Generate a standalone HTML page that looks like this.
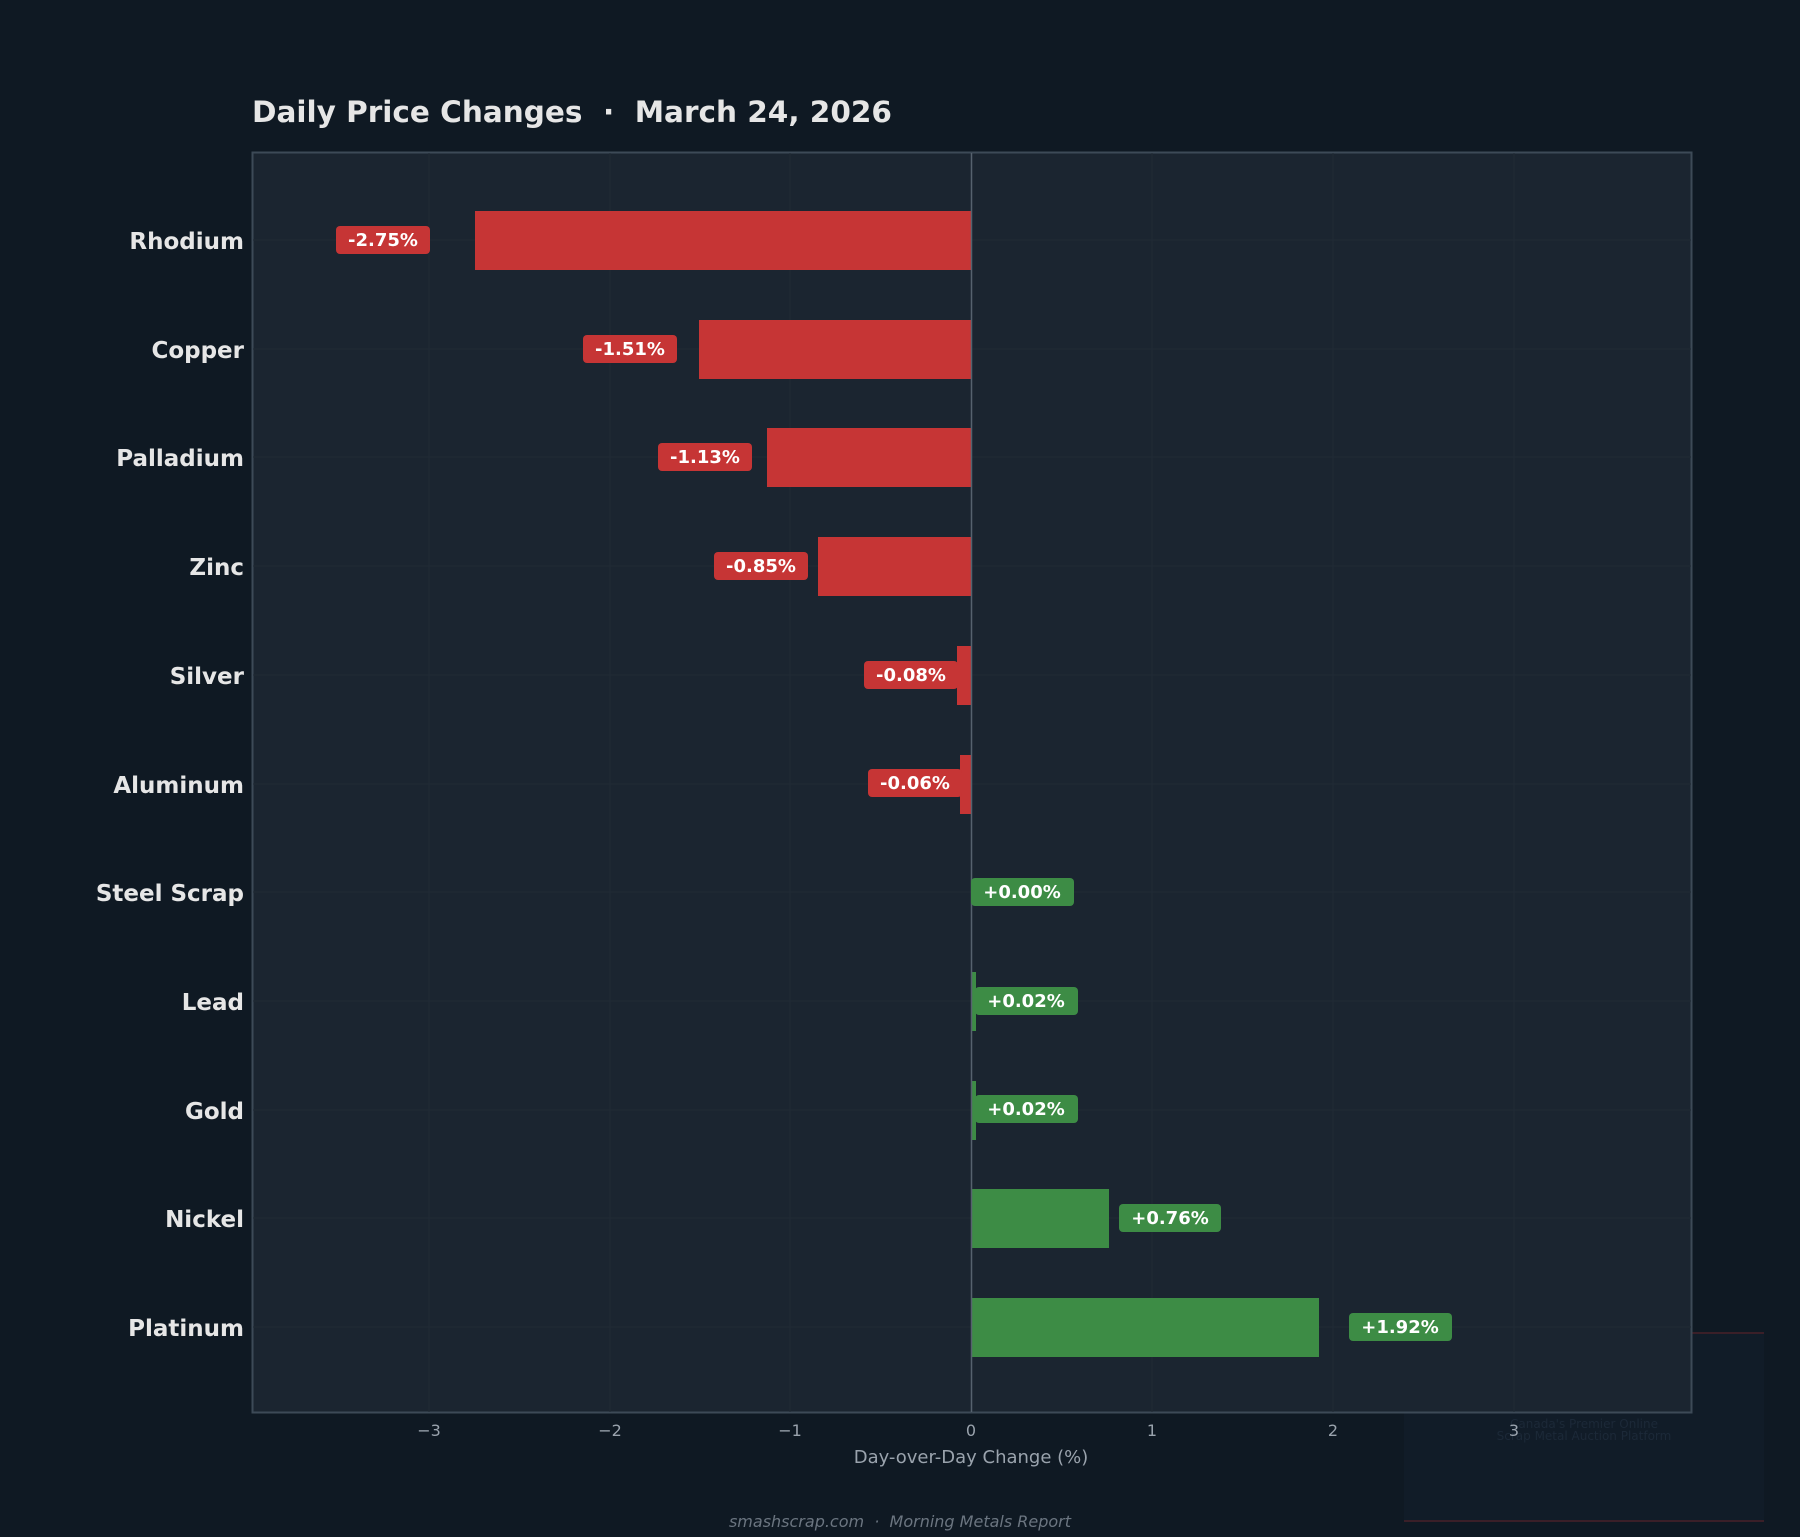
<!DOCTYPE html>
<html><head><meta charset="utf-8"><style>
html,body{margin:0;padding:0;background:#0f1923;}
svg{display:block;font-family:"DejaVu Sans","Liberation Sans",sans-serif;}
text{white-space:pre;}
</style></head><body>
<svg width="1800" height="1537" viewBox="0 0 1800 1537" xmlns="http://www.w3.org/2000/svg" xml:space="preserve">
<rect width="1800" height="1537" fill="#0f1923"/>
<!-- watermark -->
<rect x="1404" y="1333" width="360" height="188" fill="#111c28"/>
<line x1="1404" y1="1333" x2="1764" y2="1333" stroke="#3a1f28" stroke-width="2"/>
<line x1="1404" y1="1521" x2="1764" y2="1521" stroke="#3a1f28" stroke-width="2"/>
<text x="1584" y="1428" fill="#1c2938" font-size="12" text-anchor="middle">Canada's Premier Online</text>
<text x="1584" y="1440" fill="#1c2938" font-size="12" text-anchor="middle">Scrap Metal Auction Platform</text>
<!-- title -->
<text x="252" y="122" fill="#e6e6e6" font-size="29.5" font-weight="bold">Daily Price Changes  ·  March 24, 2026</text>
<!-- axes -->
<rect x="252.5" y="152.5" width="1439" height="1260" fill="#1b2530" stroke="#3d4a57" stroke-width="2"/>
<g stroke="#202a35" stroke-width="1">
<line x1="429" y1="153" x2="429" y2="1412"/><line x1="610" y1="153" x2="610" y2="1412"/><line x1="790" y1="153" x2="790" y2="1412"/>
<line x1="1152" y1="153" x2="1152" y2="1412"/><line x1="1333" y1="153" x2="1333" y2="1412"/><line x1="1514" y1="153" x2="1514" y2="1412"/>
<line x1="253" y1="240" x2="1691" y2="240"/><line x1="253" y1="349" x2="1691" y2="349"/><line x1="253" y1="457" x2="1691" y2="457"/>
<line x1="253" y1="566" x2="1691" y2="566"/><line x1="253" y1="675" x2="1691" y2="675"/><line x1="253" y1="784" x2="1691" y2="784"/>
<line x1="253" y1="892" x2="1691" y2="892"/><line x1="253" y1="1001" x2="1691" y2="1001"/><line x1="253" y1="1110" x2="1691" y2="1110"/>
<line x1="253" y1="1218" x2="1691" y2="1218"/><line x1="253" y1="1327" x2="1691" y2="1327"/>
</g>
<!-- bars -->
<g fill="#c63535">
<rect x="475" y="211" width="496" height="59"/>
<rect x="699" y="320" width="272" height="59"/>
<rect x="767" y="428" width="204" height="59"/>
<rect x="818" y="537" width="153" height="59"/>
<rect x="957" y="646" width="14" height="59"/>
<rect x="960" y="755" width="11" height="59"/>
</g>
<g fill="#3d8c45">
<rect x="971" y="972" width="5" height="59"/>
<rect x="971" y="1081" width="5" height="59"/>
<rect x="971" y="1189" width="138" height="59"/>
<rect x="971" y="1298" width="348" height="59"/>
</g>
<line x1="971.5" y1="153" x2="971.5" y2="1412" stroke="#56626e" stroke-width="1.5"/>
<!-- badges -->
<g font-size="18" font-weight="bold" fill="#ffffff" text-anchor="middle">
<rect x="336" y="226" width="94" height="28" rx="4" fill="#c63535"/><text x="383" y="246">-2.75%</text>
<rect x="583" y="335" width="94" height="28" rx="4" fill="#c63535"/><text x="630" y="355">-1.51%</text>
<rect x="658" y="443" width="94" height="28" rx="4" fill="#c63535"/><text x="705" y="463">-1.13%</text>
<rect x="714" y="552" width="94" height="28" rx="4" fill="#c63535"/><text x="761" y="572">-0.85%</text>
<rect x="864" y="661" width="94" height="28" rx="4" fill="#c63535"/><text x="911" y="681">-0.08%</text>
<rect x="868" y="769" width="94" height="28" rx="4" fill="#c63535"/><text x="915" y="789">-0.06%</text>
<rect x="971" y="878" width="103" height="28" rx="4" fill="#3d8c45"/><text x="1022" y="898">+0.00%</text>
<rect x="975" y="987" width="103" height="28" rx="4" fill="#3d8c45"/><text x="1026" y="1007">+0.02%</text>
<rect x="975" y="1095" width="103" height="28" rx="4" fill="#3d8c45"/><text x="1026" y="1115">+0.02%</text>
<rect x="1119" y="1204" width="102" height="28" rx="4" fill="#3d8c45"/><text x="1170" y="1224">+0.76%</text>
<rect x="1349" y="1313" width="103" height="28" rx="4" fill="#3d8c45"/><text x="1400" y="1333">+1.92%</text>
</g>
<!-- y labels -->
<g font-size="23" font-weight="bold" fill="#e6e6e6" text-anchor="end">
<text x="244" y="249">Rhodium</text><text x="244" y="358">Copper</text><text x="244" y="466">Palladium</text>
<text x="244" y="575">Zinc</text><text x="244" y="684">Silver</text><text x="244" y="793">Aluminum</text>
<text x="244" y="901">Steel Scrap</text><text x="244" y="1010">Lead</text><text x="244" y="1119">Gold</text>
<text x="244" y="1227">Nickel</text><text x="244" y="1336">Platinum</text>
</g>
<!-- x ticks -->
<g font-size="16" fill="#9aa3ad" text-anchor="middle">
<text x="429" y="1436">−3</text><text x="610" y="1436">−2</text><text x="790" y="1436">−1</text>
<text x="971" y="1436">0</text><text x="1152" y="1436">1</text><text x="1333" y="1436">2</text><text x="1514" y="1436">3</text>
</g>
<text x="971" y="1463" font-size="18" fill="#9aa3ad" text-anchor="middle">Day-over-Day Change (%)</text>
<text x="900" y="1527" font-size="16" font-style="italic" fill="#6b7580" text-anchor="middle">smashscrap.com  ·  Morning Metals Report</text>
</svg>
</body></html>
